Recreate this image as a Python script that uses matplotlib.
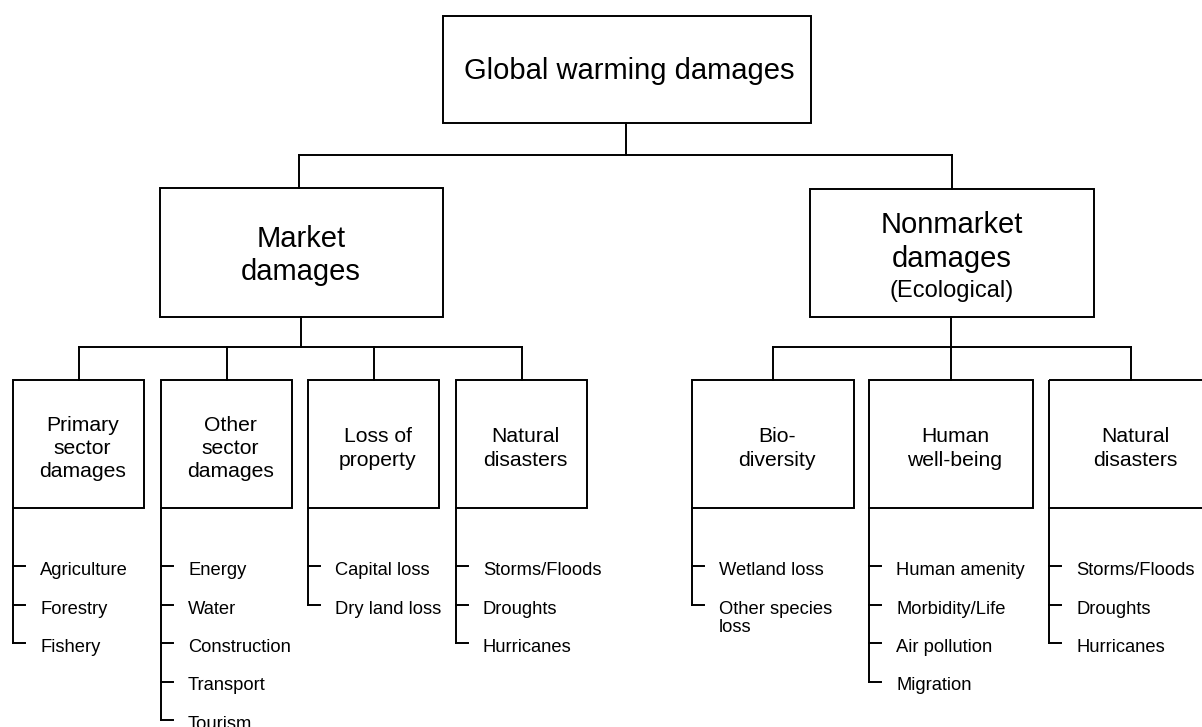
import matplotlib
matplotlib.use("Agg")
import matplotlib.pyplot as plt
from matplotlib.patches import Rectangle

plt.rcParams['font.family'] = ['Liberation Sans', 'DejaVu Sans']

# ---------------- data (labels of the tree) ----------------
root_label = ["Global warming damages"]
market_label = ["Market", "damages"]
nonmarket_label = ["Nonmarket", "damages", "(Ecological)"]

market_categories = [["Primary", "sector", "damages"],
                     ["Other", "sector", "damages"],
                     ["Loss of", "property"],
                     ["Natural", "disasters"]]
market_items = [["Agriculture", "Forestry", "Fishery"],
                ["Energy", "Water", "Construction", "Transport", "Tourism"],
                ["Capital loss", "Dry land loss"],
                ["Storms/Floods", "Droughts", "Hurricanes"]]

nonmarket_categories = [["Bio-", "diversity"],
                        ["Human", "well-being"],
                        ["Natural", "disasters"]]
nonmarket_items = [["Wetland loss", "Other species\nloss"],
                   ["Human amenity", "Morbidity/Life", "Air pollution", "Migration"],
                   ["Storms/Floods", "Droughts", "Hurricanes"]]

# ---------------- layout (pixel canvas) ----------------
W, H = 1202, 727
LW = 1.4
fig = plt.figure(figsize=(W / 100, H / 100), dpi=100)
ax = fig.add_axes([0, 0, 1, 1])
ax.set_xlim(0, W)
ax.set_ylim(H, 0)
ax.axis('off')


def box(x0, y0, x1, y1):
    ax.add_patch(Rectangle((x0, y0), x1 - x0, y1 - y0, fill=False,
                           ec='black', lw=LW, joinstyle='miter'))


def line(xs, ys):
    ax.plot(xs, ys, color='black', lw=LW, solid_capstyle='projecting',
            solid_joinstyle='miter')


def text(x, y, s, fs):
    ax.text(x, y, s, fontsize=fs, ha='center', va='baseline', color='black')


# root
box(443, 16, 811, 123)
text(629, 79, root_label[0], 21)
line([626, 626], [123, 155])
line([299, 952], [155, 155])
line([299, 299], [155, 188])
line([952, 952], [155, 189])

# second level boxes
box(160, 188, 443, 317)
for s, yb in zip(market_label, [247, 280]):
    text(301, yb, s, 21)
box(810, 189, 1094, 317)
for s, yb, fs in zip(nonmarket_label, [233, 267, 297], [21, 21, 17]):
    text(952, yb, s, fs)

# third level
TOP3, BOT3 = 380, 508
MID3 = (TOP3 + BOT3) / 2
HBAR = 347
TICK0, TSTEP, TLEN = 566, 38.5, 12


def group(stem_x, lefts, widths, cats, items):
    centers = [l + w / 2 for l, w in zip(lefts, widths)]
    line([stem_x, stem_x], [317, HBAR])
    line([centers[0], centers[-1]], [HBAR, HBAR])
    for l, w, c, cat, its in zip(lefts, widths, centers, cats, items):
        line([c, c], [HBAR, TOP3])
        box(l, TOP3, l + w, BOT3)
        n = len(cat)
        for i, s in enumerate(cat):
            yb = MID3 + 10 + (i - (n - 1) / 2) * 23
            text(c + 4, yb, s, 15.2)
        ys = [TICK0 + TSTEP * k for k in range(len(its))]
        line([l, l], [BOT3, ys[-1]])
        for yk, it in zip(ys, its):
            line([l, l + TLEN], [yk, yk])
            for j, part in enumerate(it.split("\n")):
                ax.text(l + 27, yk + 9 + 19 * j, part, fontsize=13.2,
                        ha='left', va='baseline', color='black')


group(301, [13, 161, 308, 456], [131, 131, 131, 131],
      market_categories, market_items)
group(951, [692, 869, 1049], [162, 164, 164],
      nonmarket_categories, nonmarket_items)

fig.savefig("out.png", dpi=100, facecolor='white')
